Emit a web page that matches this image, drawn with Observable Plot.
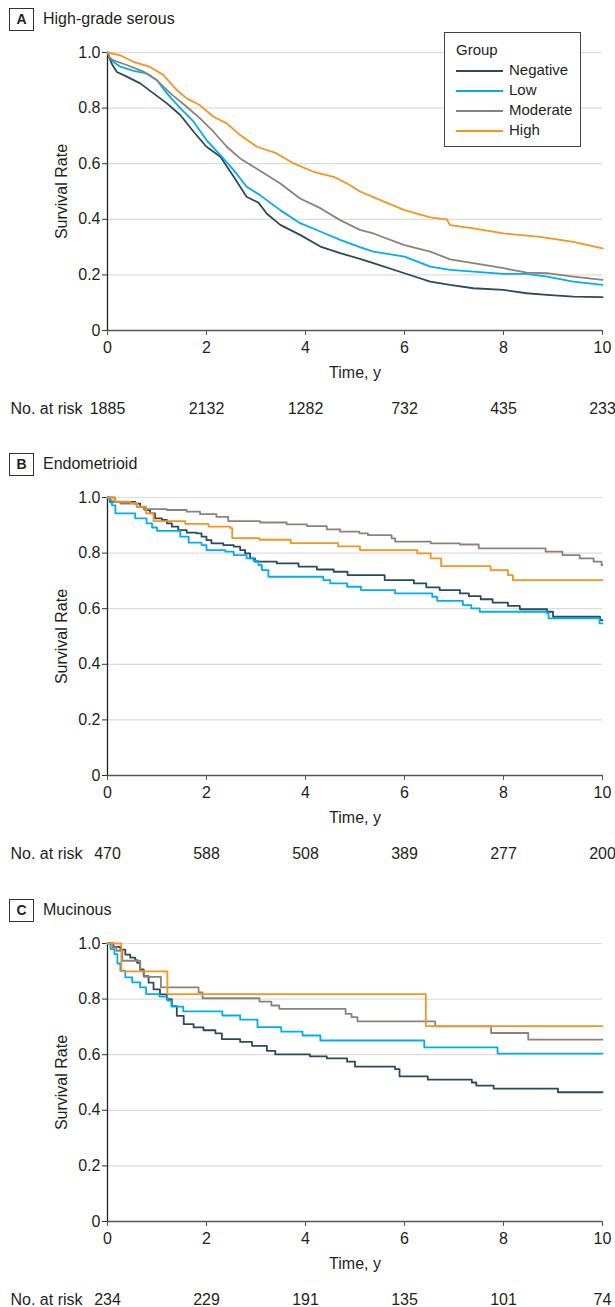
<!DOCTYPE html>
<html>
<head>
<meta charset="utf-8">
<script src="https://cdn.jsdelivr.net/npm/d3@7"></script>
<script src="https://cdn.jsdelivr.net/npm/@observablehq/plot@0.6"></script>
<style>
  html, body { margin: 0; padding: 0; background: #fff; }
  body { font-family: "Liberation Sans", Arial, sans-serif; color: #231f20; }
  #root { position: relative; width: 615px; }
  .panel { position: relative; }
  .title { position: relative; height: 36px; }
  .badge { position: absolute; left: 9px; top: 8px; width: 23px; height: 21px; border: 1px solid #333;
           font-weight: bold; font-size: 14px; line-height: 21px; text-align: center; }
  .ttext { position: absolute; left: 43px; top: 8px; font-size: 16px; line-height: 21px; }
  .legend { position: absolute; left: 444px; top: 32px; width: 135px; height: 113px; border: 1px solid #444;
            background: #fff; font-size: 15px; }
  .legend .lt { position: absolute; left: 11px; top: 8px; }
  .legend .row { position: absolute; left: 11px; height: 18px; line-height: 18px; }
  .legend .sw { display: inline-block; width: 47px; height: 2px; vertical-align: middle; margin-right: 6px; }
</style>
</head>
<body>
<div id="root"></div>
<script>
// ---------- data ----------
const groups = ["Negative", "Low", "Moderate", "High"];
const colors = ["#2b4b5a", "#00aeef", "#8c8279", "#f7941d"];
const timeTicks = [0, 2, 4, 6, 8, 10];
const rateTicks = [0, 0.2, 0.4, 0.6, 0.8, 1.0];

// A: High-grade serous
const hgsNegative = [[0,1],[0.05,0.975],[0.1,0.955],[0.19,0.93],[0.39,0.913],[0.66,0.889],[0.93,0.853],[1.2,0.817],[1.47,0.775],[1.74,0.715],[2.0,0.661],[2.28,0.625],[2.55,0.553],[2.81,0.481],[3.05,0.46],[3.22,0.42],[3.49,0.38],[3.89,0.344],[4.3,0.302],[4.7,0.278],[5.1,0.258],[5.37,0.242],[6.0,0.206],[6.52,0.176],[6.92,0.164],[7.39,0.152],[8.0,0.146],[8.47,0.134],[8.88,0.128],[9.41,0.122],[10,0.12]];
const hgsLow = [[0,1],[0.05,0.98],[0.12,0.966],[0.26,0.949],[0.53,0.934],[0.79,0.925],[1.0,0.9],[1.2,0.853],[1.47,0.8],[1.74,0.751],[2.0,0.685],[2.28,0.631],[2.55,0.577],[2.81,0.517],[3.08,0.487],[3.49,0.433],[3.89,0.386],[4.3,0.356],[4.7,0.326],[5.1,0.3],[5.37,0.284],[6.0,0.266],[6.52,0.23],[6.92,0.218],[7.39,0.212],[8.0,0.204],[8.47,0.204],[8.88,0.194],[9.41,0.176],[10,0.164]];
const hgsModerate = [[0,1],[0.05,0.98],[0.12,0.972],[0.39,0.955],[0.73,0.931],[1.0,0.9],[1.27,0.853],[1.6,0.805],[1.87,0.763],[2.14,0.715],[2.41,0.661],[2.68,0.619],[2.95,0.589],[3.22,0.559],[3.49,0.529],[3.89,0.475],[4.3,0.44],[4.7,0.397],[5.1,0.362],[5.37,0.349],[6.0,0.307],[6.52,0.284],[6.92,0.256],[7.39,0.242],[8.0,0.224],[8.47,0.208],[8.88,0.206],[9.41,0.194],[10,0.182]];
const hgsHigh = [[0,1],[0.26,0.99],[0.53,0.966],[0.86,0.948],[1.13,0.919],[1.4,0.865],[1.6,0.835],[1.87,0.81],[2.14,0.769],[2.41,0.745],[2.68,0.703],[3.02,0.661],[3.42,0.637],[3.76,0.601],[4.16,0.571],[4.57,0.553],[4.84,0.529],[5.1,0.5],[5.37,0.48],[6.0,0.433],[6.52,0.407],[6.85,0.4],[6.92,0.379],[7.39,0.367],[8.0,0.349],[8.74,0.337],[9.41,0.319],[10,0.295]];
const hgsAtRisk = [1885, 2132, 1282, 732, 435, 233];

// B: Endometrioid
const endoNegative = [[0,1],[0.05,0.984],[0.56,0.978],[0.66,0.966],[0.76,0.955],[0.86,0.943],[0.96,0.925],[1.1,0.919],[1.2,0.907],[1.3,0.895],[1.43,0.883],[1.6,0.874],[1.8,0.871],[1.9,0.859],[2.0,0.847],[2.1,0.835],[2.34,0.829],[2.55,0.823],[2.68,0.811],[2.78,0.799],[2.88,0.781],[2.98,0.769],[3.42,0.763],[3.86,0.751],[4.23,0.741],[4.57,0.733],[4.85,0.721],[5.6,0.703],[6.19,0.691],[6.44,0.677],[6.71,0.667],[7.12,0.655],[7.3,0.645],[7.54,0.634],[7.78,0.622],[8.09,0.61],[8.33,0.598],[8.88,0.589],[9.0,0.571],[9.95,0.559],[10,0.559]];
const endoLow = [[0,1],[0.04,0.99],[0.09,0.972],[0.16,0.943],[0.56,0.925],[0.79,0.907],[0.9,0.892],[1.0,0.88],[1.47,0.859],[1.64,0.838],[1.9,0.829],[2.0,0.811],[2.38,0.805],[2.55,0.793],[2.81,0.781],[2.95,0.772],[3.05,0.757],[3.12,0.739],[3.25,0.715],[4.36,0.703],[4.5,0.691],[4.84,0.679],[5.12,0.667],[5.81,0.655],[6.56,0.643],[6.66,0.628],[7.18,0.613],[7.35,0.601],[7.52,0.589],[8.88,0.583],[8.91,0.565],[9.94,0.547],[10,0.547]];
const endoModerate = [[0,1],[0.15,0.985],[0.26,0.978],[0.59,0.966],[0.73,0.958],[1.2,0.955],[1.6,0.949],[1.87,0.94],[2.2,0.93],[2.44,0.915],[3.08,0.91],[3.62,0.903],[4.03,0.897],[4.43,0.885],[4.7,0.877],[5.09,0.871],[5.26,0.865],[5.74,0.853],[5.81,0.841],[6.53,0.835],[7.12,0.831],[7.5,0.817],[8.85,0.805],[9.19,0.793],[9.54,0.781],[9.82,0.769],[9.98,0.757],[10,0.757]];
const endoHigh = [[0,1],[0.14,0.985],[0.46,0.98],[0.6,0.967],[0.78,0.943],[0.93,0.915],[1.57,0.905],[2.04,0.895],[2.48,0.89],[2.52,0.854],[3.07,0.848],[3.7,0.836],[4.66,0.824],[5.1,0.811],[6.26,0.799],[6.53,0.781],[6.74,0.753],[7.74,0.739],[8.09,0.721],[8.19,0.703],[10,0.703]];
const endoAtRisk = [470, 588, 508, 389, 277, 200];

// C: Mucinous
const mucNegative = [[0,1],[0.12,0.988],[0.26,0.978],[0.36,0.96],[0.46,0.949],[0.56,0.94],[0.6,0.93],[0.66,0.907],[0.73,0.883],[0.83,0.859],[0.93,0.835],[1.06,0.817],[1.2,0.8],[1.3,0.775],[1.4,0.74],[1.54,0.71],[1.74,0.698],[1.94,0.688],[2.18,0.677],[2.31,0.656],[2.68,0.646],[2.92,0.632],[3.22,0.614],[3.39,0.601],[4.09,0.594],[4.43,0.587],[4.84,0.575],[5.0,0.557],[5.81,0.548],[5.9,0.522],[6.47,0.51],[7.36,0.5],[7.45,0.489],[7.8,0.478],[9.1,0.465],[10,0.465]];
const mucLow = [[0,1],[0.06,0.98],[0.14,0.962],[0.2,0.928],[0.26,0.902],[0.36,0.878],[0.5,0.86],[0.66,0.842],[0.78,0.818],[1.05,0.809],[1.21,0.795],[1.29,0.773],[1.53,0.756],[2.32,0.741],[2.68,0.726],[3.03,0.699],[3.51,0.683],[3.94,0.669],[4.3,0.651],[6.4,0.626],[7.88,0.604],[10,0.604]];
const mucModerate = [[0,1],[0.1,0.986],[0.18,0.974],[0.3,0.938],[0.66,0.902],[0.74,0.88],[1.08,0.842],[1.84,0.824],[1.92,0.803],[3.07,0.791],[3.31,0.777],[3.47,0.765],[4.81,0.747],[4.93,0.735],[5.05,0.72],[6.62,0.702],[7.75,0.678],[8.5,0.654],[10,0.654]];
const mucHigh = [[0,1],[0.28,0.9],[1.21,0.818],[6.43,0.703],[10,0.703]];
const mucAtRisk = [234, 229, 191, 135, 101, 74];

const panels = [
  {letter: "A", name: "High-grade serous", series: [hgsNegative, hgsLow, hgsModerate, hgsHigh], atRisk: hgsAtRisk, curve: "linear", legend: true, h: 445},
  {letter: "B", name: "Endometrioid", series: [endoNegative, endoLow, endoModerate, endoHigh], atRisk: endoAtRisk, curve: "step-after", legend: false, h: 446},
  {letter: "C", name: "Mucinous", series: [mucNegative, mucLow, mucModerate, mucHigh], atRisk: mucAtRisk, curve: "step-after", legend: false, h: 416}
];

const root = document.getElementById("root");
const FONT = '"Liberation Sans", Arial, sans-serif';

for (const p of panels) {
  const div = document.createElement("div");
  div.className = "panel";
  div.style.height = p.h + "px";
  const title = document.createElement("div");
  title.className = "title";
  title.innerHTML = `<div class="badge">${p.letter}</div><div class="ttext">${p.name}</div>`;
  div.appendChild(title);

  const rows = [];
  p.series.forEach((s, i) => s.forEach(([t, v]) => rows.push({group: groups[i], t, s: v})));
  const risk = timeTicks.map((t, i) => ({t, n: String(p.atRisk[i])}));

  const chart = Plot.plot({
    width: 615, height: 384,
    marginTop: 16, marginLeft: 107, marginRight: 13, marginBottom: 90,
    style: {fontFamily: FONT, fontSize: "16px", color: "#231f20", background: "#fff", overflow: "visible"},
    x: {domain: [0, 10]},
    y: {domain: [0, 1]},
    color: {domain: groups, range: colors},
    marks: [
      Plot.gridY(rateTicks.slice(1), {stroke: "#dcdcdc", strokeOpacity: 1, strokeWidth: 1.2}),
      Plot.axisY({ticks: rateTicks, tickFormat: d => d === 0 ? "0" : d.toFixed(1), tickSize: 5, tickPadding: 2,
                  label: "Survival Rate", labelArrow: "none", labelAnchor: "center", labelOffset: 52, stroke: "#333"}),
      Plot.axisX({ticks: timeTicks, tickSize: 5, tickPadding: 6, label: "Time, y", labelArrow: "none", labelAnchor: "center", labelOffset: 47, stroke: "#555"}),
      Plot.ruleY([0], {stroke: "#555", strokeWidth: 1.3}),
      Plot.ruleX([0], {stroke: "#222", strokeWidth: 1.3}),
      Plot.line(rows, {x: "t", y: "s", z: "group", stroke: "group", curve: p.curve, strokeWidth: 1.8}),
      Plot.text(risk, {x: "t", text: "n", frameAnchor: "bottom", dy: 83, fill: "#231f20"}),
      Plot.text(["No. at risk"], {frameAnchor: "bottom-left", textAnchor: "start", dx: -97, dy: 83, fill: "#231f20"})
    ]
  });
  chart.style.display = "block";
  div.appendChild(chart);

  if (p.legend) {
    const lg = document.createElement("div");
    lg.className = "legend";
    let html = `<div class="lt">Group</div>`;
    groups.forEach((g, i) => {
      html += `<div class="row" style="top:${28 + i * 20}px"><span class="sw" style="background:${colors[i]}"></span>${g}</div>`;
    });
    lg.innerHTML = html;
    div.appendChild(lg);
  }
  root.appendChild(div);
}
</script>
</body>
</html>
